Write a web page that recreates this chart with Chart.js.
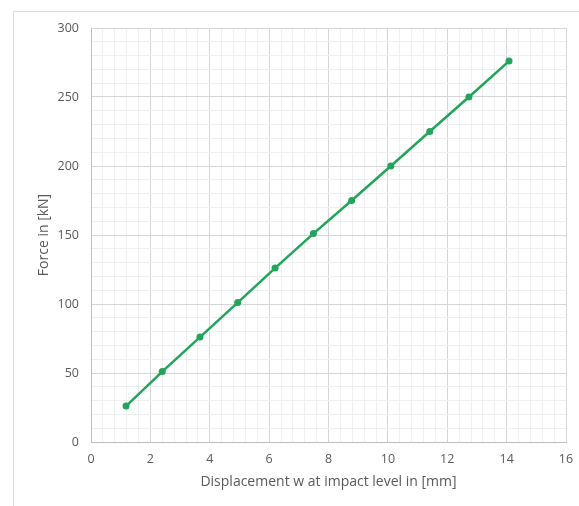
<!DOCTYPE html>
<html>
<head>
<meta charset="utf-8">
<script src="https://cdn.jsdelivr.net/npm/chart.js@4"></script>
<style>
  html, body { margin: 0; padding: 0; background: #fff; overflow: hidden; }
  #wrap { position: relative; width: 579px; height: 506px; }
  #frame { position: absolute; left: 13px; top: 11px; width: 600px; height: 520px;
           border-left: 1px solid #dcdcdc; border-top: 1px solid #dcdcdc; }
  #chart { position: absolute; left: 0; top: 0; }
</style>
</head>
<body>
<div id="wrap">
  <div id="frame"></div>
  <canvas id="chart" width="579" height="506"></canvas>
</div>
<script>
// displacement w [mm] and force [kN]
const displacement = [1.18, 2.40, 3.67, 4.94, 6.20, 7.49, 8.78, 10.10, 11.41, 12.73, 14.08];
const force = [26, 51, 76, 101, 126, 151, 175, 200, 225, 250, 276];

const xMin = 0, xMax = 16, xMajor = 2, xMinor = 0.4;
const yMin = 0, yMax = 300, yMajor = 50, yMinor = 10;

const green = '#22a45a';
const textGrey = '#595959';
const majorGrid = '#d6d6d6';
const minorGrid = '#efefef';

function isMajor(value, step) {
    let q = value / step;
    return Math.abs(q - Math.round(q)) < 1e-6;
}

let points = displacement.map((x, i) => ({ x: x, y: force[i] }));

new Chart(document.getElementById('chart').getContext('2d'), {
    type: 'scatter',
    data: {
        datasets: [{
            label: 'Force',
            data: points,
            showLine: true,
            tension: 0,
            borderColor: green,
            backgroundColor: green,
            borderWidth: 2.5,
            pointRadius: 3.5,
            pointBorderWidth: 0
        }]
    },
    options: {
        responsive: false,
        animation: false,
        layout: { padding: { top: 28, right: 13, left: 0, bottom: 0 } },
        plugins: {
            legend: { display: false },
            tooltip: { enabled: false }
        },
        scales: {
            x: {
                type: 'linear',
                min: xMin,
                max: xMax,
                afterFit: scale => {
                    scale.height = 64;
                    scale.paddingLeft = 0;
                    scale.paddingRight = 0;
                },
                border: { color: '#bfbfbf', width: 1 },
                grid: {
                    drawTicks: false,
                    color: ctx => ctx.tick && isMajor(ctx.tick.value, xMajor) ? majorGrid : minorGrid
                },
                ticks: {
                    stepSize: xMinor,
                    autoSkip: false,
                    maxRotation: 0,
                    padding: 10,
                    color: textGrey,
                    font: { family: 'Open Sans', size: 12.5 },
                    callback: v => isMajor(v, xMajor) ? String(Math.round(v)) : ''
                },
                title: {
                    display: true,
                    text: 'Displacement w at impact level in [mm]',
                    color: textGrey,
                    font: { family: 'Open Sans', size: 14 },
                    padding: { top: 0, bottom: 16 }
                }
            },
            y: {
                type: 'linear',
                min: yMin,
                max: yMax,
                afterFit: scale => { scale.width = 91; },
                border: { color: '#bfbfbf', width: 1 },
                grid: {
                    drawTicks: false,
                    color: ctx => ctx.tick && isMajor(ctx.tick.value, yMajor) ? majorGrid : minorGrid
                },
                ticks: {
                    stepSize: yMinor,
                    autoSkip: false,
                    padding: 12,
                    color: textGrey,
                    font: { family: 'Open Sans', size: 12.5 },
                    callback: v => isMajor(v, yMajor) ? String(Math.round(v)) : ''
                },
                title: {
                    display: true,
                    text: 'Force in [kN]',
                    color: textGrey,
                    font: { family: 'Open Sans', size: 14 },
                    padding: { top: 36, bottom: 0 }
                }
            }
        }
    }
});
</script>
</body>
</html>
